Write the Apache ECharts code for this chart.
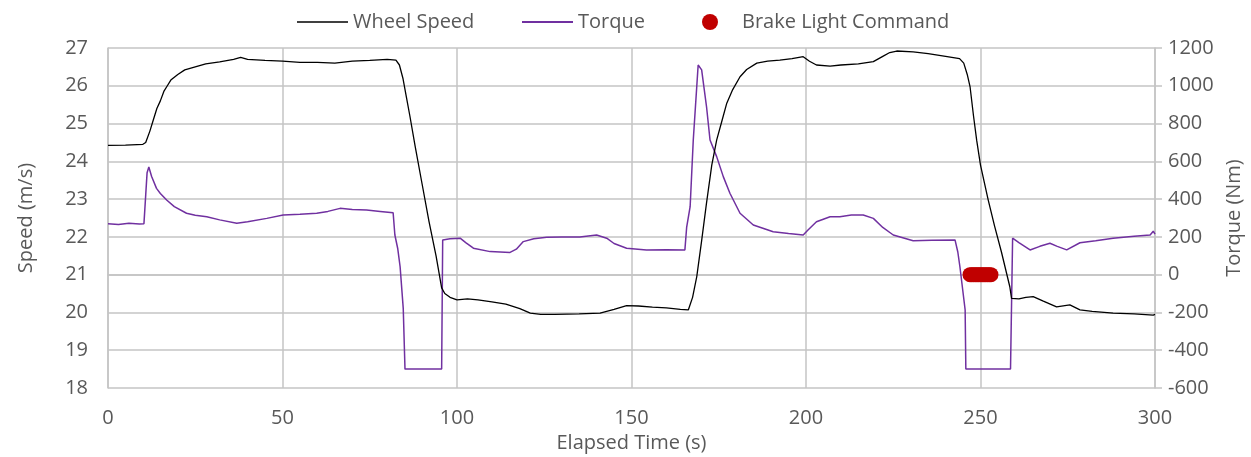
<!DOCTYPE html>
<html>
<head>
<meta charset="utf-8">
<script src="https://cdn.jsdelivr.net/npm/echarts@6/dist/echarts.min.js"></script>
<style>html,body{margin:0;padding:0;background:#fff}#c{width:1251px;height:457px}</style>
</head>
<body>
<div id="c"></div>
<script>
var speedTime = [0,5,10,10.8,12,13,14,15,16,17,18,20,22,25,28,32,36,38,40,45,50,55,60,65,70,75,80,82.5,83.5,84.5,85.5,86.5,88,90,92,94,95.6,96.5,98,100,103,106,110,114,118,121,124,128,135,141,145,148.6,152,156,160,164,166.3,167.5,168.7,170.1,171.5,173,174.4,176,177.3,179,181.1,183,185.9,189,192.5,196,199.2,201,203,206.9,210,215,219.3,222,224,226,230.7,235,240,244,245.2,246.2,247,248,248.9,250,252.2,254,256,258.4,258.9,261,263,265.1,268,271.8,275.6,278.5,282,288,294,299.5,300];
var speedValues = [24.42,24.43,24.45,24.5,24.8,25.1,25.4,25.6,25.85,26.0,26.15,26.3,26.42,26.5,26.58,26.63,26.7,26.75,26.7,26.67,26.65,26.62,26.62,26.6,26.65,26.67,26.7,26.68,26.55,26.2,25.7,25.2,24.4,23.4,22.4,21.5,20.65,20.5,20.4,20.33,20.36,20.33,20.28,20.22,20.1,19.98,19.95,19.95,19.96,19.98,20.08,20.18,20.17,20.14,20.12,20.08,20.07,20.4,20.95,21.9,22.9,23.9,24.56,25.1,25.54,25.9,26.24,26.43,26.6,26.65,26.68,26.72,26.77,26.65,26.55,26.52,26.55,26.58,26.64,26.78,26.88,26.92,26.9,26.85,26.78,26.72,26.6,26.3,25.98,25.2,24.56,23.9,22.98,22.3,21.6,20.68,20.37,20.36,20.4,20.42,20.3,20.15,20.2,20.07,20.03,19.98,19.96,19.93,19.95];

var torqueTime = [0,3,6,9,10.3,10.8,11.2,11.7,12.5,13.9,15,16.8,19,22.5,25,28.3,32,36.9,40,45.5,50.2,55,59.8,63,66.5,70,74.1,78,81.7,82.2,83,83.7,84.6,85.1,95.6,95.9,98,100.9,102.5,104.7,109.5,115.2,117,119,122,125.7,130,135.2,140,142.9,145,148.6,154.3,160,165.3,165.8,166.8,167.7,169.1,170.1,171.5,172.5,174.4,176.3,178.2,181.1,184.9,190.6,195,199.2,200.5,203,206.9,209.7,213,216.4,219.3,222,225,230.7,236,242.7,243.5,244.1,245.6,245.8,258.6,259.2,261,264.2,267,269.9,272,274.7,278.5,283,288,294,298.6,299.5,300];
var torqueValues = [270,265,272,268,270,420,540,570,520,457,430,395,360,325,315,307,290,272,280,298,316,320,325,335,351,345,342,335,328,210,140,42,-180,-500,-500,184,190,193,170,140,122,118,135,175,190,198,200,200,210,193,165,140,131,132,131,250,360,713,1110,1084,889,713,625,519,431,325,263,227,218,210,235,280,307,307,316,316,298,250,210,180,182,184,120,42,-187,-500,-500,193,170,131,150,166,150,131,169,180,193,203,210,230,215];

var brakeTime = [247,247.5,248,248.5,249,249.5,250,250.5,251,251.5,252,252.5,253];
var brakeValues = [0,0,0,0,0,0,0,0,0,0,0,0,0];

var xTicks = {min:0, max:300, interval:50};
var speedTicks = {min:18, max:27, interval:1};
var torqueTicks = {min:-600, max:1200, interval:200};

function pairs(xs, ys){ return xs.map(function(x,i){return [x, ys[i]];}); }
function plain(v){ return String(v); }

var FONT = '"Open Sans", "Noto Sans", sans-serif';
var TXT = '#595959';
var GRID = '#c4c4c4';

var chart = echarts.init(document.getElementById('c'), null, {renderer:'canvas'});
chart.setOption({
  animation:false,
  textStyle:{fontFamily:FONT},
  legend:[
    {data:[{name:'Wheel Speed', icon:'rect'}], left:292, top:7, itemWidth:51, itemHeight:1.5, textStyle:{fontSize:20,color:TXT,fontFamily:FONT}},
    {data:[{name:'Torque', icon:'rect'}], left:517, top:7, itemWidth:51, itemHeight:2, textStyle:{fontSize:20,color:TXT,fontFamily:FONT}},
    {data:[{name:'Brake Light Command', icon:'circle', itemStyle:{color:'#C00000', opacity:1}}], left:697, top:7, itemWidth:16, itemHeight:16, textStyle:{fontSize:20,color:TXT,fontFamily:FONT,padding:[0,0,0,19]}}
  ],
  grid:{left:108, right:96, top:48, bottom:69, containLabel:false, outerBoundsMode:'none'},
  xAxis:{
    type:'value', min:xTicks.min, max:xTicks.max, interval:xTicks.interval,
    name:'Elapsed Time (s)', nameLocation:'middle', nameGap:40,
    nameTextStyle:{fontSize:20,color:TXT,fontFamily:FONT},
    axisLine:{show:true,lineStyle:{color:GRID,width:1.5}},
    axisTick:{show:false},
    axisLabel:{fontSize:20,color:TXT,margin:20,fontFamily:FONT,formatter:plain},
    splitLine:{show:true,lineStyle:{color:GRID,width:1.5}}
  },
  yAxis:[
    {
      type:'value', min:speedTicks.min, max:speedTicks.max, interval:speedTicks.interval,
      name:'Speed (m/s)', nameLocation:'middle', nameGap:72, nameRotate:90,
      nameTextStyle:{fontSize:20,color:TXT,fontFamily:FONT},
      axisLine:{show:true,lineStyle:{color:GRID,width:1.5}},
      axisTick:{show:false},
      axisLabel:{fontSize:20,color:TXT,margin:20,fontFamily:FONT,formatter:plain},
      splitLine:{show:true,lineStyle:{color:GRID,width:1.5}}
    },
    {
      type:'value', position:'right', min:torqueTicks.min, max:torqueTicks.max, interval:torqueTicks.interval,
      name:'Torque (Nm)', nameLocation:'middle', nameGap:64, nameRotate:90,
      nameTextStyle:{fontSize:20,color:TXT,fontFamily:FONT},
      axisLine:{show:true,lineStyle:{color:GRID,width:1.5}},
      axisTick:{show:true,length:7,inside:false,lineStyle:{color:GRID,width:1.5}},
      axisLabel:{fontSize:20,color:TXT,margin:13,fontFamily:FONT,formatter:plain},
      splitLine:{show:false}
    }
  ],
  series:[
    {name:'Wheel Speed', type:'line', yAxisIndex:0, data:pairs(speedTime, speedValues), showSymbol:false, symbol:'none', color:'#000000', lineStyle:{color:'#000000', width:1.3}, z:3},
    {name:'Torque', type:'line', yAxisIndex:1, data:pairs(torqueTime, torqueValues), showSymbol:false, symbol:'none', color:'#7030A0', lineStyle:{color:'#7030A0', width:1.5}, z:2},
    {name:'Brake Light Command', type:'scatter', yAxisIndex:1, data:pairs(brakeTime, brakeValues), symbol:'circle', symbolSize:15, color:'#C00000', itemStyle:{color:'#C00000', opacity:1}, z:4}
  ]
});
</script>
</body>
</html>
